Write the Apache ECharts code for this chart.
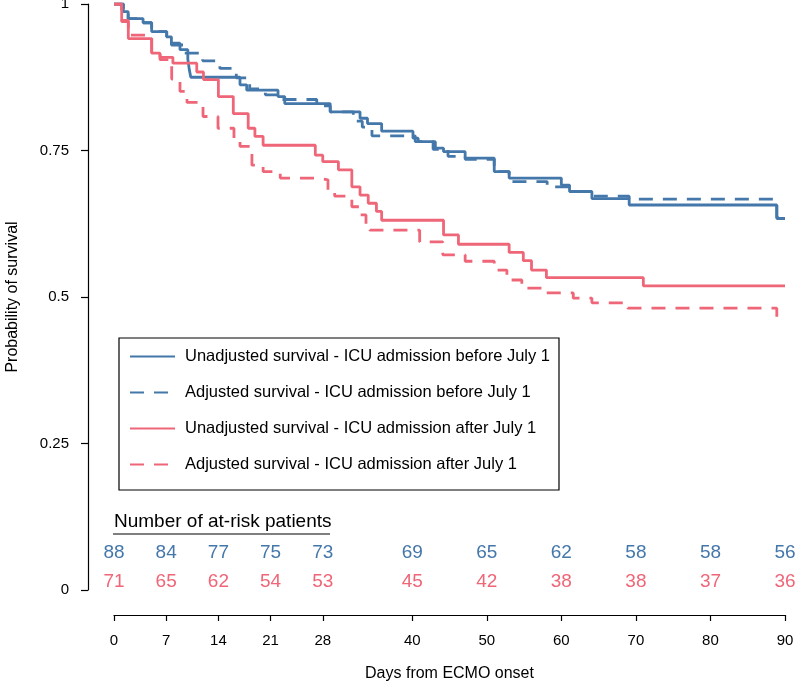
<!DOCTYPE html>
<html>
<head>
<meta charset="utf-8">
<script src="https://cdn.jsdelivr.net/npm/echarts@6/dist/echarts.min.js"></script>
<style>html,body{margin:0;padding:0;background:#fff}#c{width:797px;height:683px}</style>
</head>
<body>
<div id="c"></div>
<script>
// ---- data ----
const blueSolidT = [0,1.25,1.9,3.9,5.05,7.07,7.7,8.85,9.9,10.1,10.3,16.9,17.8,22.0,22.9,29.0,33.0,34.0,35.9,40.1,40.8,43.1,44.2,47.1,51.0,53.0,60.0,61.1,64.1,69.1,88.9,90];
const blueSolidS = [1,0.987,0.975,0.968,0.953,0.944,0.933,0.922,0.906,0.888,0.875,0.862,0.853,0.842,0.830,0.816,0.805,0.796,0.783,0.771,0.765,0.754,0.748,0.737,0.714,0.703,0.691,0.680,0.668,0.657,0.634,0.634];

const blueAdjT = [0,1.25,1.9,3.9,5.05,7.07,7.7,9.3,11.9,14.2,16.4,18.2,20.3,22.5,27.2,29.0,32.1,33.3,34.6,40.4,42.8,44.8,47.1,51.0,53.0,58.1,61.2,64.1,69.1,88.9,90];
const blueAdjS = [1,0.987,0.975,0.968,0.953,0.944,0.930,0.916,0.903,0.890,0.874,0.855,0.845,0.837,0.826,0.816,0.800,0.790,0.775,0.765,0.752,0.740,0.735,0.714,0.697,0.688,0.680,0.672,0.667,0.636,0.636];

const redSolidT = [0,1.03,1.92,5.05,6.17,7.9,11.1,12.0,14.0,16.0,18.0,18.9,20.0,27.0,28.0,30.1,31.9,33.0,34.1,35.2,35.9,44.2,46.2,53.0,54.9,56.0,58.0,71.0,90];
const redSolidS = [1,0.970,0.941,0.916,0.909,0.899,0.884,0.871,0.842,0.813,0.788,0.774,0.759,0.742,0.731,0.717,0.688,0.674,0.660,0.646,0.631,0.606,0.590,0.576,0.562,0.546,0.533,0.519,0.519];

const redAdjT = [0,1.03,1.92,5.06,6.17,7.74,8.85,9.79,11.94,13.95,16.09,16.9,18.5,20.0,22.3,27.0,28.7,29.6,31.9,33.0,33.8,34.3,41.0,44.1,47.1,51.0,52.7,54.7,57.9,61.6,64.1,68.9,88.9,90];
const redAdjS = [1,0.972,0.947,0.915,0.905,0.872,0.851,0.832,0.808,0.788,0.765,0.757,0.725,0.714,0.703,0.700,0.683,0.672,0.654,0.640,0.620,0.614,0.594,0.572,0.561,0.546,0.529,0.515,0.507,0.498,0.490,0.481,0.464,0.464];

const riskTimes = [0,7,14,21,28,40,50,60,70,80,90];
const riskBefore = [88,84,77,75,73,69,65,62,58,58,56];
const riskAfter = [71,65,62,54,53,45,42,38,38,37,36];

const xTicks = [0,7,14,21,28,40,50,60,70,80,90];
const yTicks = [0,0.25,0.5,0.75,1];

const seriesNames = [
  'Unadjusted survival - ICU admission before July 1',
  'Adjusted survival - ICU admission before July 1',
  'Unadjusted survival - ICU admission after July 1',
  'Adjusted survival - ICU admission after July 1'
];
const riskTitle = 'Number of at-risk patients';
const xTitle = 'Days from ECMO onset';
const yTitle = 'Probability of survival';

// ---- styles ----
const BLUE = '#4477AA', RED = '#EE6677';
const FONT = 'Liberation Sans, Arial, sans-serif';
const zip = (t, s) => t.map((v, i) => [v, s[i]]);

const chart = echarts.init(document.getElementById('c'), null, {renderer: 'canvas'});

function kmSeries(name, data, color, dashed) {
  return {
    name, type: 'line', step: 'end', data, symbol: 'none', showSymbol: false,
    lineStyle: {color, width: 2.8, type: dashed ? [14, 10] : 'solid', cap: 'butt'},
    itemStyle: {color},
    emphasis: {disabled: true}, silent: true, z: 3
  };
}
function riskSeries(values, color, yPos) {
  return {
    type: 'scatter', silent: true, symbolSize: 0,
    itemStyle: {color: 'rgba(0,0,0,0)', opacity: 1},
    emphasis: {disabled: true},
    data: riskTimes.map((t, i) => [t, yPos, values[i]]),
    label: {show: true, position: 'inside', formatter: p => String(p.value[2]),
      color, opacity: 1, fontSize: 19, fontFamily: FONT, textBorderWidth: 0},
    z: 4
  };
}

chart.setOption({
  animation: false,
  backgroundColor: '#fff',
  grid: {left: 114, right: 12, top: 4, bottom: 93, containLabel: false, outerBoundsMode: 'none'},
  xAxis: {
    type: 'value', min: 0, max: 90, offset: 25,
    name: xTitle, nameLocation: 'middle', nameGap: 51,
    nameTextStyle: {fontSize: 16, color: '#000', fontFamily: FONT},
    axisLine: {show: true, onZero: false, lineStyle: {color: '#000', width: 1.2}},
    axisTick: {show: true, length: 6, lineStyle: {color: '#000', width: 1.2}, customValues: xTicks},
    axisLabel: {color: '#000', fontSize: 15, fontFamily: FONT, margin: 18, customValues: xTicks},
    splitLine: {show: false}
  },
  yAxis: {
    type: 'value', min: 0, max: 1, interval: 0.25, offset: 26,
    name: yTitle, nameLocation: 'middle', nameGap: 67, nameRotate: 90,
    nameTextStyle: {fontSize: 16, color: '#000', fontFamily: FONT},
    axisLine: {show: true, onZero: false, lineStyle: {color: '#000', width: 1.2}},
    axisTick: {show: true, length: 7, lineStyle: {color: '#000', width: 1.2}, customValues: yTicks},
    axisLabel: {color: '#000', fontSize: 15, fontFamily: FONT, margin: 19, customValues: yTicks,
      formatter: v => String(v)},
    splitLine: {show: false}
  },
  legend: {
    data: seriesNames, orient: 'vertical', left: 119, top: 338,
    backgroundColor: '#fff', borderColor: '#000', borderWidth: 1.2,
    padding: [10, 9, 17, 10], itemGap: 19, itemWidth: 45, itemHeight: 14,
    selectedMode: false,
    itemStyle: {opacity: 0},
    textStyle: {fontSize: 16.5, color: '#000', fontFamily: FONT, padding: [0, 0, 0, 5]}
  },
  graphic: [
    {type: 'text', left: 114, top: 512, silent: true,
      style: {text: riskTitle, fontSize: 19, fill: '#000', fontFamily: FONT}},
    {type: 'line', silent: true, shape: {x1: 113, y1: 534, x2: 330, y2: 534},
      style: {stroke: '#000', lineWidth: 1.2}}
  ],
  series: [
    kmSeries(seriesNames[0], zip(blueSolidT, blueSolidS), BLUE, false),
    kmSeries(seriesNames[1], zip(blueAdjT, blueAdjS), BLUE, true),
    kmSeries(seriesNames[2], zip(redSolidT, redSolidS), RED, false),
    kmSeries(seriesNames[3], zip(redAdjT, redAdjS), RED, true),
    riskSeries(riskBefore, BLUE, 0.064),
    riskSeries(riskAfter, RED, 0.014)
  ]
});
</script>
</body>
</html>
